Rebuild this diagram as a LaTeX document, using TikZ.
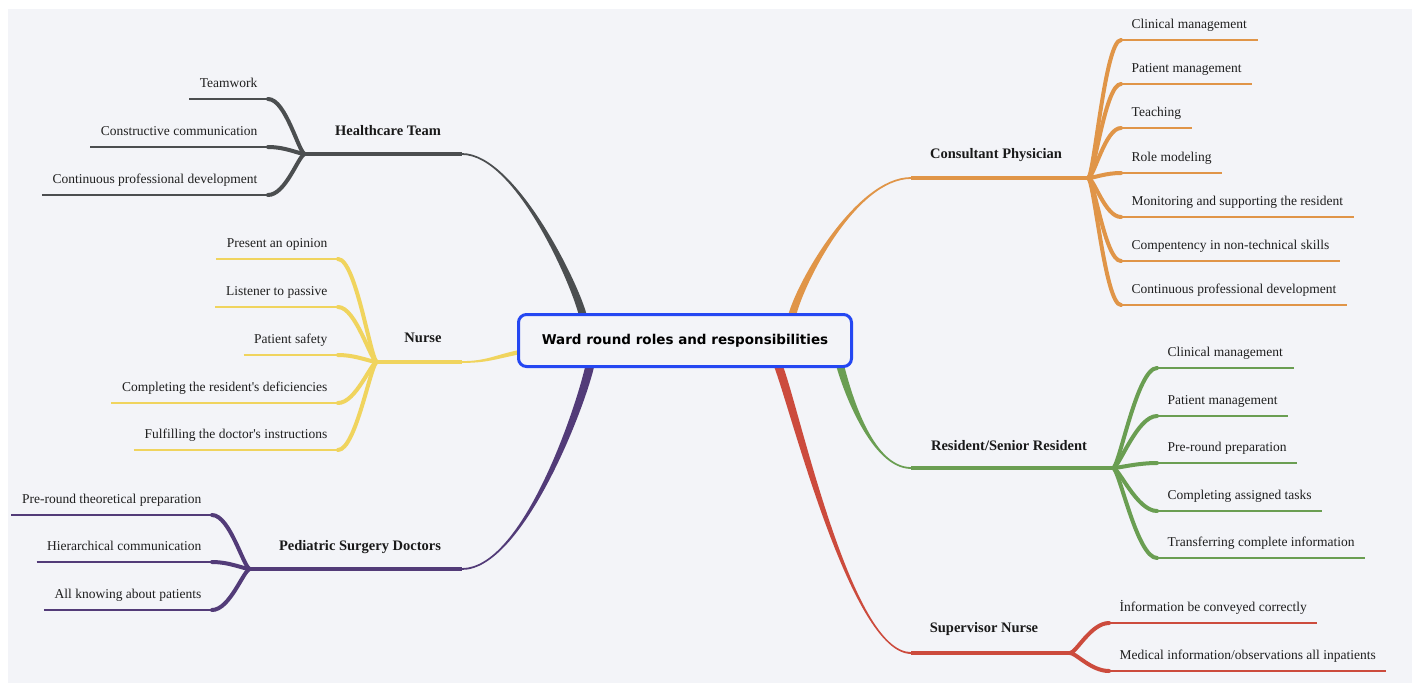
\documentclass[tikz,border=0pt]{standalone}
\usepackage{fontspec}
\setmainfont{Liberation Serif}
\newfontfamily\titlefont{DejaVu Sans}

\definecolor{bgcol}{HTML}{F3F4F8}
\definecolor{mcol}{HTML}{2447F2}
\definecolor{hcol}{HTML}{4B4E50}
\definecolor{ncol}{HTML}{F0D45E}
\definecolor{pcol}{HTML}{523B78}
\definecolor{ccol}{HTML}{E09548}
\definecolor{rcol}{HTML}{6A9E52}
\definecolor{scol}{HTML}{CC4B3D}

\tikzset{
	leaf/.style={font=\fontsize{13.5}{16}\selectfont, text=black!88, inner xsep=10.5pt, inner ysep=8pt, text height=10pt, text depth=3pt},
	leafline/.style={line width=2pt},
	twig/.style={line width=4pt, line cap=round},
	branch/.style={font=\fontsize{14.5}{17}\selectfont\bfseries, text=black!90},
	stem/.style={line width=4.5pt},
	hub/.style={draw=mcol, line width=3pt, rounded corners=8pt, fill=bgcol, minimum width=333pt, minimum height=52pt, font=\titlefont\fontsize{13.5}{16}\selectfont\bfseries}
}

\begin{document}
\begin{tikzpicture}[x=1pt,y=-1pt]
		\useasboundingbox (0,0) rectangle (1412,683);
		\fill[bgcol] (8,9) rectangle (1412,683);

		% ends of the connectors
		\coordinate (hcA) at (583,316);
		\coordinate (hcE) at (462,154);
		\coordinate (hcF) at (305,154);
		\coordinate (nuA) at (520,352);
		\coordinate (nuE) at (462,362);
		\coordinate (nuF) at (377,362);
		\coordinate (pdA) at (590,365);
		\coordinate (pdE) at (462,569);
		\coordinate (pdF) at (250,569);
		\coordinate (cpA) at (792,316);
		\coordinate (cpE) at (911,178);
		\coordinate (cpF) at (1088,178);
		\coordinate (rsA) at (840,365);
		\coordinate (rsE) at (911,468);
		\coordinate (rsF) at (1113,468);
		\coordinate (svA) at (778,365);
		\coordinate (svE) at (911,653);
		\coordinate (svF) at (1070,653);

		% tapered connectors
		\fill[hcol] ([xshift=-4pt]hcA) .. controls +(-8,-33) and +(53,0) .. ([yshift=-0.9pt]hcE) -- ([yshift=0.9pt]hcE) .. controls +(53,0) and +(-8,-33) .. ([xshift=4pt]hcA) -- cycle;
		\fill[ncol] ([yshift=2.2pt]nuA) .. controls +(-25,5) and +(25,0) .. ([yshift=0.9pt]nuE) -- ([yshift=-0.9pt]nuE) .. controls +(25,0) and +(-25,5) .. ([yshift=-2.2pt]nuA) -- cycle;
		\fill[pcol] ([xshift=-4.5pt]pdA) .. controls +(-10,45) and +(60,0) .. ([yshift=0.9pt]pdE) -- ([yshift=-0.9pt]pdE) .. controls +(60,0) and +(-10,45) .. ([xshift=4.5pt]pdA) -- cycle;
		\fill[ccol] ([xshift=-4pt]cpA) .. controls +(8,-33) and +(-55,0) .. ([yshift=0.9pt]cpE) -- ([yshift=-0.9pt]cpE) .. controls +(-55,0) and +(8,-33) .. ([xshift=4pt]cpA) -- cycle;
		\fill[rcol] ([xshift=-4pt]rsA) .. controls +(6,23) and +(-40,0) .. ([yshift=-0.9pt]rsE) -- ([yshift=0.9pt]rsE) .. controls +(-40,0) and +(6,23) .. ([xshift=4pt]rsA) -- cycle;
		\fill[scol] ([xshift=-4.5pt]svA) .. controls +(17,43) and +(-60,0) .. ([yshift=-0.9pt]svE) -- ([yshift=0.9pt]svE) .. controls +(-60,0) and +(17,43) .. ([xshift=4.5pt]svA) -- cycle;

		\node[hub] (main) at (685,340.5) {Ward round roles and responsibilities};

		% Healthcare Team
		\draw[stem,hcol] (hcF) -- (hcE);
		\node[branch] (hc) at (388,131) {Healthcare Team};
		\node[leaf,anchor=south east] (hc1) at (268,99) {Teamwork};
		\node[leaf,anchor=south east] (hc2) at (268,147) {Constructive communication};
		\node[leaf,anchor=south east] (hc3) at (268,195) {Continuous professional development};
		\draw[leafline,hcol] (hc1.south west) -- (hc1.south east);
		\draw[leafline,hcol] (hc2.south west) -- (hc2.south east);
		\draw[leafline,hcol] (hc3.south west) -- (hc3.south east);
		\draw[twig,hcol] (hcF) .. controls +(-6,0) and +(18,0) .. (hc1.south east);
		\draw[twig,hcol] (hcF) .. controls +(-6,0) and +(18,0) .. (hc2.south east);
		\draw[twig,hcol] (hcF) .. controls +(-6,0) and +(18,0) .. (hc3.south east);

		% Nurse
		\draw[stem,ncol] (nuF) -- (nuE);
		\node[branch] (nu) at (423,338) {Nurse};
		\node[leaf,anchor=south east] (nu1) at (338,259) {Present an opinion};
		\node[leaf,anchor=south east] (nu2) at (338,307) {Listener to passive};
		\node[leaf,anchor=south east] (nu3) at (338,355) {Patient safety};
		\node[leaf,anchor=south east] (nu4) at (338,403) {Completing the resident\textquotesingle s deficiencies};
		\node[leaf,anchor=south east] (nu5) at (338,450) {Fulfilling the doctor\textquotesingle s instructions};
		\draw[leafline,ncol] (nu1.south west) -- (nu1.south east);
		\draw[leafline,ncol] (nu2.south west) -- (nu2.south east);
		\draw[leafline,ncol] (nu3.south west) -- (nu3.south east);
		\draw[leafline,ncol] (nu4.south west) -- (nu4.south east);
		\draw[leafline,ncol] (nu5.south west) -- (nu5.south east);
		\draw[twig,ncol] (nuF) .. controls +(-6,0) and +(18,0) .. (nu1.south east);
		\draw[twig,ncol] (nuF) .. controls +(-6,0) and +(18,0) .. (nu2.south east);
		\draw[twig,ncol] (nuF) .. controls +(-6,0) and +(18,0) .. (nu3.south east);
		\draw[twig,ncol] (nuF) .. controls +(-6,0) and +(18,0) .. (nu4.south east);
		\draw[twig,ncol] (nuF) .. controls +(-6,0) and +(18,0) .. (nu5.south east);

		% Pediatric Surgery Doctors
		\draw[stem,pcol] (pdF) -- (pdE);
		\node[branch] (pd) at (360,547) {Pediatric Surgery Doctors};
		\node[leaf,anchor=south east] (pd1) at (212,515) {Pre-round theoretical preparation};
		\node[leaf,anchor=south east] (pd2) at (212,562) {Hierarchical communication};
		\node[leaf,anchor=south east] (pd3) at (212,610) {All knowing about patients};
		\draw[leafline,pcol] (pd1.south west) -- (pd1.south east);
		\draw[leafline,pcol] (pd2.south west) -- (pd2.south east);
		\draw[leafline,pcol] (pd3.south west) -- (pd3.south east);
		\draw[twig,pcol] (pdF) .. controls +(-6,0) and +(18,0) .. (pd1.south east);
		\draw[twig,pcol] (pdF) .. controls +(-6,0) and +(18,0) .. (pd2.south east);
		\draw[twig,pcol] (pdF) .. controls +(-6,0) and +(18,0) .. (pd3.south east);

		% Consultant Physician
		\draw[stem,ccol] (cpE) -- (cpF);
		\node[branch] (cp) at (996,155) {Consultant Physician};
		\node[leaf,anchor=south west] (cp1) at (1121,40) {Clinical management};
		\node[leaf,anchor=south west] (cp2) at (1121,84) {Patient management};
		\node[leaf,anchor=south west] (cp3) at (1121,128) {Teaching};
		\node[leaf,anchor=south west] (cp4) at (1121,173) {Role modeling};
		\node[leaf,anchor=south west] (cp5) at (1121,217) {Monitoring and supporting the resident};
		\node[leaf,anchor=south west] (cp6) at (1121,261) {Compentency in non-technical skills};
		\node[leaf,anchor=south west] (cp7) at (1121,305) {Continuous professional development};
		\draw[leafline,ccol] (cp1.south west) -- (cp1.south east);
		\draw[leafline,ccol] (cp2.south west) -- (cp2.south east);
		\draw[leafline,ccol] (cp3.south west) -- (cp3.south east);
		\draw[leafline,ccol] (cp4.south west) -- (cp4.south east);
		\draw[leafline,ccol] (cp5.south west) -- (cp5.south east);
		\draw[leafline,ccol] (cp6.south west) -- (cp6.south east);
		\draw[leafline,ccol] (cp7.south west) -- (cp7.south east);
		\draw[twig,ccol] (cpF) .. controls +(6,0) and +(-16,0) .. (cp1.south west);
		\draw[twig,ccol] (cpF) .. controls +(6,0) and +(-16,0) .. (cp2.south west);
		\draw[twig,ccol] (cpF) .. controls +(6,0) and +(-16,0) .. (cp3.south west);
		\draw[twig,ccol] (cpF) .. controls +(6,0) and +(-16,0) .. (cp4.south west);
		\draw[twig,ccol] (cpF) .. controls +(6,0) and +(-16,0) .. (cp5.south west);
		\draw[twig,ccol] (cpF) .. controls +(6,0) and +(-16,0) .. (cp6.south west);
		\draw[twig,ccol] (cpF) .. controls +(6,0) and +(-16,0) .. (cp7.south west);

		% Resident/Senior Resident
		\draw[stem,rcol] (rsE) -- (rsF);
		\node[branch] (rs) at (1009,446) {Resident/Senior Resident};
		\node[leaf,anchor=south west] (rs1) at (1157,368) {Clinical management};
		\node[leaf,anchor=south west] (rs2) at (1157,416) {Patient management};
		\node[leaf,anchor=south west] (rs3) at (1157,463) {Pre-round preparation};
		\node[leaf,anchor=south west] (rs4) at (1157,511) {Completing assigned tasks};
		\node[leaf,anchor=south west] (rs5) at (1157,558) {Transferring complete information};
		\draw[leafline,rcol] (rs1.south west) -- (rs1.south east);
		\draw[leafline,rcol] (rs2.south west) -- (rs2.south east);
		\draw[leafline,rcol] (rs3.south west) -- (rs3.south east);
		\draw[leafline,rcol] (rs4.south west) -- (rs4.south east);
		\draw[leafline,rcol] (rs5.south west) -- (rs5.south east);
		\draw[twig,rcol] (rsF) .. controls +(6,0) and +(-20,0) .. (rs1.south west);
		\draw[twig,rcol] (rsF) .. controls +(6,0) and +(-20,0) .. (rs2.south west);
		\draw[twig,rcol] (rsF) .. controls +(6,0) and +(-20,0) .. (rs3.south west);
		\draw[twig,rcol] (rsF) .. controls +(6,0) and +(-20,0) .. (rs4.south west);
		\draw[twig,rcol] (rsF) .. controls +(6,0) and +(-20,0) .. (rs5.south west);

		% Supervisor Nurse
		\draw[stem,scol] (svE) -- (svF);
		\node[branch] (sv) at (984,629) {Supervisor Nurse};
		\node[leaf,anchor=south west] (sv1) at (1109,623) {İnformation be conveyed correctly};
		\node[leaf,anchor=south west] (sv2) at (1109,671) {Medical information/observations all inpatients};
		\draw[leafline,scol] (sv1.south west) -- (sv1.south east);
		\draw[leafline,scol] (sv2.south west) -- (sv2.south east);
		\draw[twig,scol] (svF) .. controls +(6,0) and +(-18,0) .. (sv1.south west);
		\draw[twig,scol] (svF) .. controls +(6,0) and +(-18,0) .. (sv2.south west);

	\end{tikzpicture}
\end{document}
